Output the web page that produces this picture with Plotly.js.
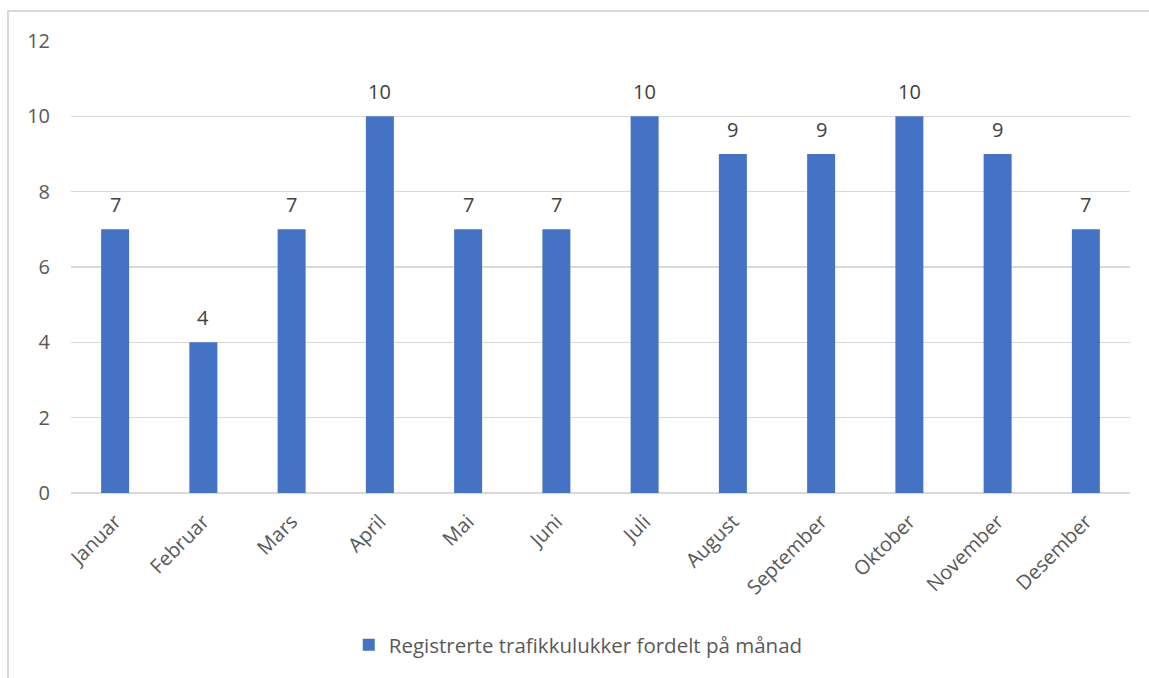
<!DOCTYPE html>
<html>
<head>
<meta charset="utf-8">
<script src="https://cdn.plot.ly/plotly-3.0.1.min.js"></script>
<style>
  html, body { margin: 0; padding: 0; background: #fff; }
  #wrap { position: relative; width: 1149px; height: 678px; overflow: hidden; }
  #frame { position: absolute; left: 7px; top: 10px; width: 1200px; height: 720px;
           border-left: 2px solid #d9d9d9; border-top: 2px solid #d9d9d9; pointer-events: none; }
  #chart { position: absolute; left: 0; top: 0; width: 1149px; height: 678px; }
</style>
</head>
<body>
<div id="wrap">
  <div id="chart"></div>
  <div id="frame"></div>
</div>
<script>
const months = ["Januar", "Februar", "Mars", "April", "Mai", "Juni", "Juli", "August", "September", "Oktober", "November", "Desember"];
const accidents = [7, 4, 7, 10, 7, 7, 10, 9, 9, 10, 9, 7];
const seriesName = "Registrerte trafikkulukker fordelt på månad";
const yTicks = [0, 2, 4, 6, 8, 10, 12];

const fontFam = "'Open Sans', 'Liberation Sans', sans-serif";

const trace = {
  type: "bar",
  x: months,
  y: accidents,
  name: seriesName,
  marker: { color: "#4472C4" },
  showlegend: true,
  hoverinfo: "x+y"
};

const labelAnnotations = months.map((m, i) => ({
  x: m,
  y: accidents[i],
  xref: "x",
  yref: "y",
  text: String(accidents[i]),
  showarrow: false,
  yanchor: "middle",
  yshift: 25,
  font: { family: fontFam, size: 20, color: "#404040" }
}));

const layout = {
  width: 1149,
  height: 678,
  margin: { l: 71, r: 19, t: 41, b: 185 },
  paper_bgcolor: "#ffffff",
  plot_bgcolor: "#ffffff",
  bargap: 0.683,
  font: { family: fontFam, color: "#595959", size: 20 },
  annotations: labelAnnotations,
  xaxis: {
    type: "category",
    automargin: false,
    tickangle: -45,
    tickfont: { family: fontFam, size: 20, color: "#595959" },
    showgrid: false,
    showline: false,
    zeroline: false,
    ticks: "",
    ticklabelstandoff: 12
  },
  yaxis: {
    automargin: false,
    range: [0, 12],
    tickvals: yTicks,
    ticktext: yTicks.map(String),
    tickfont: { family: fontFam, size: 20, color: "#595959" },
    showgrid: true,
    gridcolor: "#d9d9d9",
    gridwidth: 1.5,
    zeroline: true,
    zerolinecolor: "#d9d9d9",
    zerolinewidth: 2,
    showline: false,
    ticks: "",
    ticklabelstandoff: 20
  },
  showlegend: true,
  legend: {
    orientation: "h",
    x: 0.479,
    xanchor: "center",
    y: -0.336,
    yanchor: "middle",
    font: { family: fontFam, size: 20.5, color: "#595959" },
    itemwidth: 30
  }
};

Plotly.newPlot("chart", [trace], layout, { displayModeBar: false, staticPlot: true });
</script>
</body>
</html>
